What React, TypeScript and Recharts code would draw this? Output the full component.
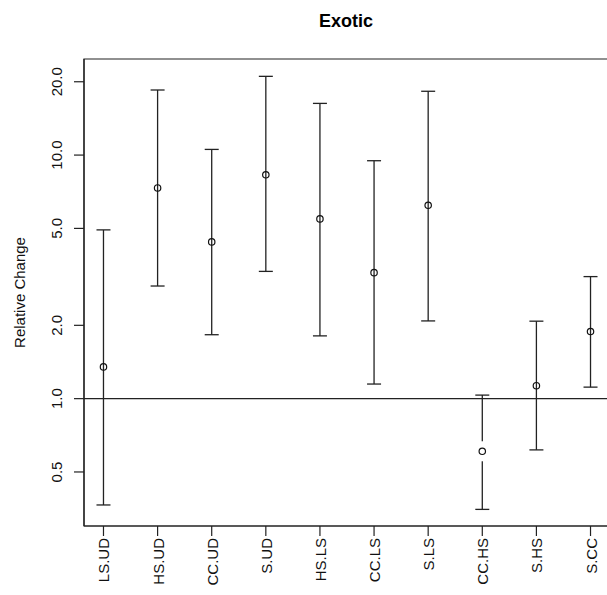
import { ComposedChart, Scatter, ErrorBar, XAxis, YAxis, ReferenceLine, ReferenceArea } from 'recharts';

const CATEGORIES = ['LS.UD', 'HS.UD', 'CC.UD', 'S.UD', 'HS.LS', 'CC.LS', 'S.LS', 'CC.HS', 'S.HS', 'S.CC'];
const ESTIMATE = [1.35, 7.33, 4.4, 8.3, 5.47, 3.29, 6.22, 0.608, 1.13, 1.886];
const LOWER = [0.366, 2.9, 1.83, 3.33, 1.81, 1.148, 2.085, 0.351, 0.616, 1.115];
const UPPER = [4.93, 18.5, 10.55, 21.05, 16.3, 9.48, 18.28, 1.034, 2.08, 3.17];
const Y_TICKS = [0.5, 1, 2, 5, 10, 20];
const Y_TICK_LABELS = ['0.5', '1.0', '2.0', '5.0', '10.0', '20.0'];

const FONT = '"Liberation Sans", Arial, sans-serif';

const data = CATEGORIES.map((name, i) => ({
  x: i + 1,
  name,
  y: ESTIMATE[i],
  err: [ESTIMATE[i] - LOWER[i], UPPER[i] - ESTIMATE[i]],
}));

// eslint-disable-next-line @typescript-eslint/no-explicit-any
const XTick = (props: any) => {
  const { x, y, payload } = props;
  const label = CATEGORIES[Math.round(payload.value) - 1];
  const bx = x + 6;
  return (
    <text x={bx} y={y} transform={`rotate(-90 ${bx} ${y})`} textAnchor="end" fontSize={15} fontFamily={FONT} fill="#111">
      {label}
    </text>
  );
};

// eslint-disable-next-line @typescript-eslint/no-explicit-any
const YTick = (props: any) => {
  const { y, payload } = props;
  const idx = Y_TICKS.indexOf(payload.value);
  const bx = 62;
  return (
    <text x={bx} y={y} transform={`rotate(-90 ${bx} ${y})`} textAnchor="middle" fontSize={15} fontFamily={FONT} fill="#111">
      {idx >= 0 ? Y_TICK_LABELS[idx] : payload.value}
    </text>
  );
};

// the CC.HS bar in the original has its line broken around the point
// eslint-disable-next-line @typescript-eslint/no-explicit-any
const OpenCircle = (props: any) => {
  const { cx, cy, payload } = props;
  return (
    <g>
      {payload && payload.name === 'CC.HS' && <rect x={cx - 3} y={cy - 10} width={6} height={20} fill="#fff" />}
      <circle cx={cx} cy={cy} r={3.2} fill="none" stroke="#111" strokeWidth={1.2} />
    </g>
  );
};

export default function App() {
  return (
    <div style={{ position: 'fixed', left: 0, top: 0, width: 607, height: 595, overflow: 'hidden', background: '#fff' }}>
      <ComposedChart width={640} height={595} data={data} margin={{ top: 59, right: 30, bottom: 0, left: 0 }}>
        <text x={346} y={26.5} textAnchor="middle" fontSize={18} fontWeight="bold" fontFamily={FONT} fill="#000">
          Exotic
        </text>
        <text x={25} y={292.5} transform="rotate(-90 25 292.5)" textAnchor="middle" fontSize={15} fontFamily={FONT} fill="#111">
          Relative Change
        </text>
        <XAxis
          type="number"
          dataKey="x"
          domain={[0.64, 10.36]}
          ticks={[1, 2, 3, 4, 5, 6, 7, 8, 9, 10]}
          allowDataOverflow
          height={69}
          tickSize={10}
          tickLine={{ stroke: '#222', strokeWidth: 1.2 }}
          axisLine={{ stroke: '#222', strokeWidth: 1.2 }}
          tick={<XTick />}
        />
        <YAxis
          type="number"
          dataKey="y"
          scale="log"
          domain={[0.3, 24.8]}
          ticks={Y_TICKS}
          allowDataOverflow
          width={84}
          tickSize={10}
          tickLine={{ stroke: '#222', strokeWidth: 1.2 }}
          axisLine={{ stroke: '#222', strokeWidth: 1.2 }}
          tick={<YTick />}
        />
        <ReferenceArea x1={0.64} x2={10.36} y1={0.3} y2={24.8} fill="none" stroke="#222" strokeWidth={1.2} />
        <ReferenceLine y={1} stroke="#222" strokeWidth={1.2} />
        <Scatter dataKey="y" isAnimationActive={false} shape={<OpenCircle />}>
          <ErrorBar dataKey="err" direction="y" width={7} stroke="#222" strokeWidth={1.3} isAnimationActive={false} />
        </Scatter>
      </ComposedChart>
    </div>
  );
}
